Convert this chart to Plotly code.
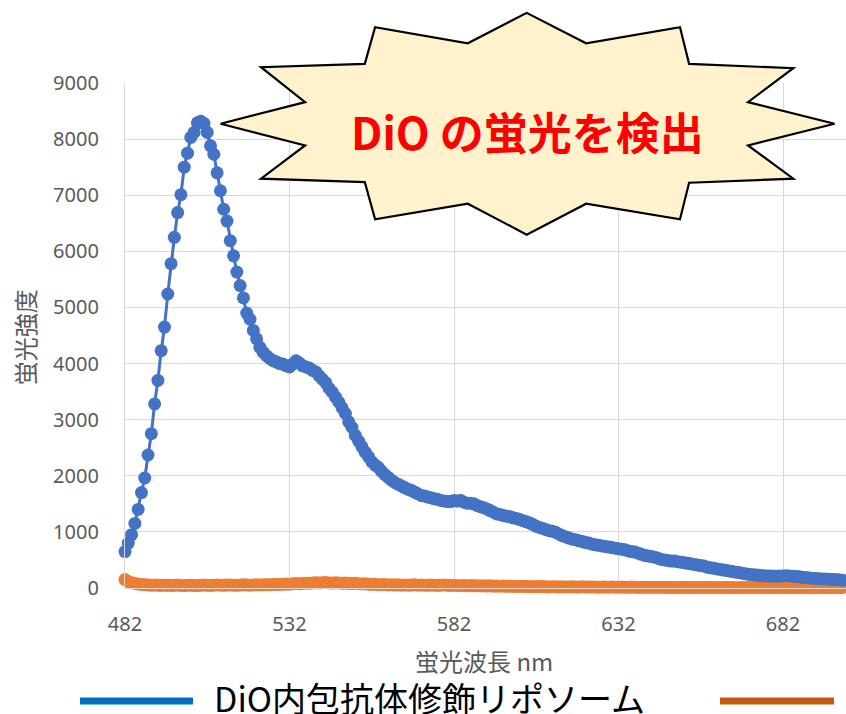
import plotly.graph_objects as go

# ---------------- data ----------------
wavelength = list(range(482, 701))

dio_liposome = [
    650, 800, 950, 1150, 1400, 1700, 1960, 2370, 2750, 3280,
    3700, 4230, 4650, 5240, 5780, 6250, 6690, 7010, 7500, 7750,
    8030, 8120, 8290, 8320, 8280, 8120, 7880, 7730, 7400, 7080,
    6750, 6540, 6190, 5920, 5630, 5390, 5170, 4900, 4790, 4590,
    4440, 4290, 4200, 4140, 4090, 4050, 4030, 4000, 3990, 3960,
    3940, 3990, 4050, 4010, 3960, 3940, 3920, 3880, 3850, 3780,
    3720, 3660, 3560, 3490, 3400, 3310, 3210, 3110, 2960, 2860,
    2720, 2620, 2520, 2420, 2340, 2250, 2190, 2150, 2080, 2020,
    1970, 1920, 1880, 1850, 1820, 1790, 1760, 1740, 1710, 1680,
    1650, 1640, 1620, 1610, 1590, 1580, 1560, 1550, 1540, 1540,
    1560, 1550, 1560, 1530, 1510, 1510, 1500, 1470, 1450, 1430,
    1410, 1380, 1350, 1320, 1310, 1290, 1280, 1270, 1250, 1240,
    1220, 1200, 1180, 1160, 1130, 1100, 1080, 1060, 1040, 1020,
    1010, 990, 960, 930, 910, 890, 870, 860, 840, 830,
    810, 800, 780, 770, 760, 750, 740, 730, 720, 710,
    700, 690, 680, 660, 650, 640, 620, 600, 580, 570,
    560, 550, 530, 510, 500, 490, 480, 480, 470, 460,
    450, 440, 430, 420, 410, 400, 390, 370, 360, 350,
    340, 330, 320, 310, 300, 290, 280, 270, 260, 250,
    240, 235, 230, 225, 220, 215, 215, 215, 210, 215,
    215, 220, 215, 210, 205, 200, 190, 185, 180, 175,
    170, 165, 160, 160, 155, 150, 150, 145, 140,
]

control = [
    150, 115, 95, 80, 70, 62, 58, 55, 50, 52,
    48, 45, 50, 47, 44, 48, 52, 46, 43, 47,
    50, 46, 44, 49, 53, 48, 45, 50, 54, 51,
    47, 52, 55, 50, 48, 53, 57, 54, 50, 55,
    58, 54, 56, 60, 57, 62, 65, 61, 66, 70,
    68, 74, 78, 75, 82, 86, 83, 90, 94, 88,
    92, 96, 90, 87, 93, 89, 84, 88, 82, 79,
    83, 76, 72, 75, 68, 64, 67, 60, 57, 61,
    55, 58, 52, 56, 50, 54, 49, 53, 58, 51,
    55, 50, 47, 52, 49, 45, 50, 54, 48, 44,
    49, 45, 42, 46, 41, 44, 39, 42, 37, 40,
    35, 38, 33, 36, 31, 34, 30, 33, 28, 31,
    27, 30, 25, 28, 24, 27, 22, 26, 23, 20,
    24, 21, 19, 23, 20, 18, 22, 19, 17, 21,
    18, 16, 20, 17, 15, 19, 16, 14, 18, 15,
    13, 17, 14, 12, 16, 13, 11, 15, 12, 10,
    14, 11, 9, 13, 10, 12, 9, 11, 8, 12,
    10, 8, 11, 9, 7, 10, 12, 9, 7, 10,
    8, 11, 9, 7, 10, 8, 6, 9, 11, 8,
    10, 7, 9, 11, 8, 6, 9, 7, 10, 8,
    6, 9, 7, 10, 8, 11, 9, 7, 10, 8,
    6, 9, 11, 8, 10, 7, 9, 8, 10,
]

x_ticks = [482, 532, 582, 632, 682]
y_ticks = [0, 1000, 2000, 3000, 4000, 5000, 6000, 7000, 8000, 9000]

series_name = "DiO内包抗体修飾リポソーム"
callout_text = "DiO の蛍光を検出"
x_title = "蛍光波長 nm"
y_title = "蛍光強度"

# ---------------- layout geometry ----------------
W, H = 846, 714
L, R, T, B = 125, 0, 82.5, 126
PW, PH = W - L - R, H - T - B


def px(x):
    return (x - L) / PW


def py(y):
    return (H - B - y) / PH


star_pts = [
    (526.7, 12.3), (586.1, 42.7), (680, 26.7), (689.1, 63.3), (793.3, 67.7),
    (748, 101.7), (834.5, 123.3), (748, 145), (793.3, 178.3), (689.1, 182.3),
    (680, 219), (586.1, 203.3), (526.7, 234.3), (467.8, 203.3), (375.1, 219),
    (364.8, 181.7), (261, 178.3), (305.1, 145), (220.6, 123.3), (305.1, 101.7),
    (261, 66.7), (364.8, 63.3), (375.1, 26.7), (467.8, 42.7),
]
star_path = "M " + " L ".join(f"{px(a):.5f},{py(b):.5f}" for a, b in star_pts) + " Z"

fig = go.Figure()

fig.add_trace(go.Scatter(
    x=wavelength, y=control, mode="lines+markers",
    line=dict(color="#ED7D31", width=3),
    marker=dict(color="#ED7D31", size=13),
    cliponaxis=False, showlegend=False,
))
fig.add_trace(go.Scatter(
    x=wavelength, y=dio_liposome, mode="lines+markers",
    line=dict(color="#4472C4", width=3),
    marker=dict(color="#4472C4", size=13),
    cliponaxis=False, showlegend=False,
))

tick_font = dict(family="Noto Sans, Open Sans, sans-serif", size=20, color="#595959")

fig.update_layout(
    width=W, height=H,
    margin=dict(l=L, r=R, t=T, b=B, pad=0),
    paper_bgcolor="white", plot_bgcolor="white",
    showlegend=False,
    xaxis=dict(
        range=[482, 482 + PW / 3.29], tickvals=x_ticks, ticktext=[str(v) for v in x_ticks],
        showgrid=True, gridcolor="#D9D9D9", gridwidth=1.3,
        zeroline=False, showline=True, linecolor="#D9D9D9", linewidth=1.3,
        ticks="", tickfont=tick_font, ticklabelstandoff=18,
    ),
    yaxis=dict(
        range=[0, 9000], tickvals=y_ticks, ticktext=[str(v) for v in y_ticks],
        showgrid=True, gridcolor="#D9D9D9", gridwidth=1.3,
        zeroline=False, showline=True, linecolor="#D9D9D9", linewidth=1.3,
        ticks="", tickfont=tick_font, ticklabelstandoff=21,
    ),
    shapes=[
        dict(type="path", path=star_path, xref="paper", yref="paper",
             fillcolor="#FFF2CC", line=dict(color="black", width=2.2), layer="above"),
        dict(type="line", xref="paper", yref="paper",
             x0=px(80), x1=px(193), y0=py(701), y1=py(701),
             line=dict(color="#0070C0", width=7)),
        dict(type="line", xref="paper", yref="paper",
             x0=px(720), x1=px(834), y0=py(701), y1=py(701),
             line=dict(color="#C55A11", width=7)),
    ],
    annotations=[
        dict(text=f"<b>{callout_text}</b>", xref="paper", yref="paper",
             x=px(527), y=py(131), xanchor="center", yanchor="middle", showarrow=False,
             font=dict(family="Noto Sans CJK JP", size=44, color="#FF0000")),
        dict(text=x_title, xref="paper", yref="paper",
             x=px(484), y=py(661), xanchor="center", yanchor="middle", showarrow=False,
             font=dict(family="Noto Sans CJK JP", size=24, color="#595959")),
        dict(text=y_title, xref="paper", yref="paper", textangle=-90,
             x=px(24), y=py(337), xanchor="center", yanchor="middle", showarrow=False,
             font=dict(family="Noto Sans CJK JP", size=24, color="#595959")),
        dict(text=series_name, xref="paper", yref="paper",
             x=px(212), y=py(698), xanchor="left", yanchor="middle", showarrow=False,
             font=dict(family="Noto Sans CJK JP", size=34, color="black")),
    ],
)

fig.write_html(
    "out.html",
    config={"displayModeBar": False},
    post_script="document.body.style.margin='0';document.body.style.overflow='hidden';",
)
